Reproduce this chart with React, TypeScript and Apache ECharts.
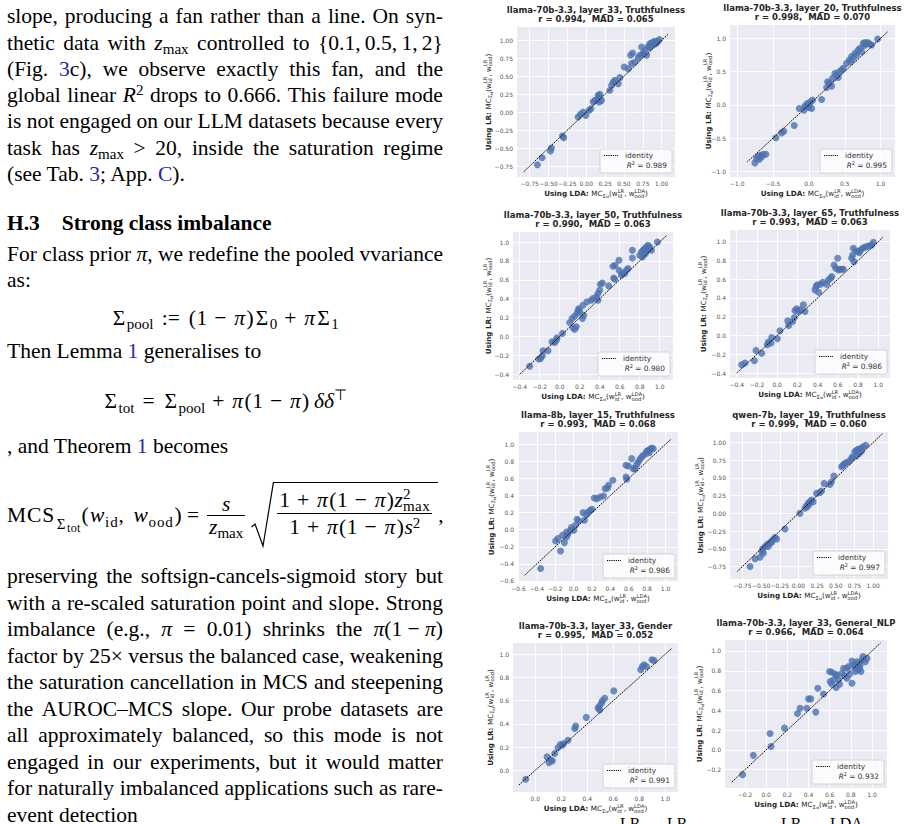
import React, { useEffect, useRef } from 'react';
import * as echarts from 'echarts';

// ---------------- DATA ----------------
const TITLES = [
  'llama-70b-3.3, layer_33, Truthfulness',
  'llama-70b-3.3, layer_20, Truthfulness',
  'llama-70b-3.3, layer_50, Truthfulness',
  'llama-70b-3.3, layer_65, Truthfulness',
  'llama-8b, layer_15, Truthfulness',
  'qwen-7b, layer_19, Truthfulness',
  'llama-70b-3.3, layer_33, Gender',
  'llama-70b-3.3, layer_33, General_NLP',
];
const STATS = [
  'r = 0.994,  MAD = 0.065',
  'r = 0.998,  MAD = 0.070',
  'r = 0.990,  MAD = 0.063',
  'r = 0.993,  MAD = 0.063',
  'r = 0.993,  MAD = 0.068',
  'r = 0.999,  MAD = 0.060',
  'r = 0.995,  MAD = 0.052',
  'r = 0.966,  MAD = 0.064',
];
const R2 = ['0.989', '0.995', '0.980', '0.986', '0.986', '0.997', '0.991', '0.932'];

const L70_L33_TRUTH: [number, number][] = [
  [-0.648, -0.732], [-0.586, -0.634], [-0.475, -0.541], [-0.462, -0.5], [-0.316, -0.332], [-0.298, -0.356],
  [-0.108, -0.068], [-0.077, -0.031], [-0.041, 0.002], [-0.006, -0.045], [0.039, 0.025], [0.061, 0.048],
  [0.092, 0.141], [0.114, 0.164], [0.145, 0.174], [0.172, 0.141], [0.203, 0.164], [0.158, 0.234],
  [0.172, 0.211], [0.18, 0.248], [0.313, 0.304], [0.336, 0.373], [0.358, 0.42], [0.38, 0.443],
  [0.424, 0.396], [0.446, 0.48], [0.504, 0.629], [0.557, 0.605], [0.588, 0.791], [0.615, 0.824],
  [0.601, 0.675], [0.646, 0.698], [0.69, 0.759], [0.712, 0.791], [0.748, 0.805], [0.756, 0.824],
  [0.734, 0.907], [0.779, 0.861], [0.801, 0.791], [0.823, 0.916], [0.845, 0.954], [0.867, 0.963],
  [0.889, 0.977], [0.911, 0.986], [0.934, 0.968], [0.969, 1.009], [0.854, 0.916], [0.88, 0.935],
  [0.92, 0.954], [0.947, 0.981], [0.836, 0.898],
];
const L70_L20_TRUTH: [number, number][] = [
  [-0.753, -0.874], [-0.73, -0.809], [-0.707, -0.774], [-0.674, -0.759], [-0.637, -0.744], [-0.6, -0.744],
  [-0.693, -0.824], [-0.66, -0.784], [-0.46, -0.497], [-0.381, -0.422], [-0.349, -0.397], [-0.205, -0.312],
  [-0.135, -0.055], [-0.07, -0.08], [-0.042, -0.03], [-0.023, 0.02], [0.005, -0.005], [0.023, 0.045],
  [0.037, -0.055], [-0.056, -0.02], [-0.009, -0.04], [0.051, 0.07], [0.177, 0.08], [0.247, 0.261],
  [0.26, 0.347], [0.284, 0.322], [0.316, 0.281], [0.33, 0.397], [0.363, 0.472], [0.386, 0.447],
  [0.409, 0.412], [0.423, 0.497], [0.456, 0.523], [0.479, 0.548], [0.526, 0.623], [0.563, 0.673],
  [0.595, 0.724], [0.619, 0.698], [0.581, 0.648], [0.642, 0.774], [0.665, 0.749], [0.688, 0.824],
  [0.712, 0.849], [0.735, 0.799], [0.758, 0.925], [0.781, 0.935], [0.805, 0.915], [0.828, 0.925],
  [0.851, 0.91], [0.874, 0.9], [0.772, 0.894], [0.819, 0.935], [0.958, 0.99],
];
const L70_L50_TRUTH: [number, number][] = [
  [-0.3, -0.315], [-0.21, -0.238], [-0.19, -0.231], [-0.173, -0.203], [-0.167, -0.15], [-0.117, -0.15],
  [-0.077, -0.055], [-0.05, -0.062], [-0.033, -0.038], [-0.027, -0.013], [0.027, 0.033], [0.1, 0.149],
  [0.123, 0.191], [0.15, 0.216], [0.133, 0.093], [0.15, 0.078], [0.167, 0.103], [0.183, 0.279],
  [0.193, 0.297], [0.2, 0.268], [0.173, 0.244], [0.227, 0.191], [0.24, 0.226], [0.233, 0.331],
  [0.273, 0.367], [0.317, 0.384], [0.333, 0.402], [0.367, 0.42], [0.383, 0.455], [0.4, 0.49],
  [0.407, 0.553], [0.427, 0.567], [0.383, 0.384], [0.49, 0.536], [0.533, 0.743], [0.553, 0.754],
  [0.54, 0.62], [0.55, 0.606], [0.593, 0.807], [0.617, 0.648], [0.627, 0.673], [0.65, 0.666],
  [0.593, 0.701], [0.667, 0.701], [0.683, 0.719], [0.727, 0.912], [0.727, 0.831], [0.8, 0.859],
  [0.817, 0.894], [0.833, 0.912], [0.85, 0.93], [0.867, 0.947], [0.883, 0.965], [0.9, 0.947],
  [0.827, 0.842], [0.857, 0.877], [0.873, 0.912], [0.893, 0.93], [0.917, 0.912], [0.977, 1.0],
];
const L70_L65_TRUTH: [number, number][] = [
  [-0.351, -0.312], [-0.318, -0.294], [-0.225, -0.269], [-0.209, -0.159], [-0.153, -0.188], [-0.097, -0.099],
  [-0.087, -0.07], [-0.061, -0.081], [-0.054, -0.021], [0.002, -0.035], [0.028, 0.05], [0.104, 0.156],
  [0.114, 0.107], [0.153, 0.149], [0.17, 0.192], [0.176, 0.266], [0.193, 0.284], [0.209, 0.256],
  [0.226, 0.273], [0.259, 0.326], [0.275, 0.256], [0.374, 0.486], [0.384, 0.521], [0.397, 0.539],
  [0.41, 0.461], [0.43, 0.546], [0.45, 0.568], [0.489, 0.546], [0.506, 0.592], [0.529, 0.61],
  [0.562, 0.752], [0.578, 0.716], [0.598, 0.823], [0.605, 0.699], [0.539, 0.628], [0.621, 0.706],
  [0.638, 0.706], [0.654, 0.706], [0.736, 0.823], [0.759, 0.787], [0.746, 0.858], [0.802, 0.894],
  [0.825, 0.911], [0.845, 0.929], [0.865, 0.94], [0.885, 0.947], [0.911, 0.957], [0.934, 0.965],
  [0.951, 0.993], [0.753, 0.929], [0.779, 0.901], [0.812, 0.883],
];
const L8_L15_TRUTH: [number, number][] = [
  [-0.359, -0.455], [-0.196, -0.131], [-0.171, -0.104], [-0.142, -0.249], [-0.121, -0.065], [-0.1, -0.151],
  [-0.077, -0.026], [-0.063, -0.053], [-0.034, -0.007], [-0.023, 0.025], [0.002, -0.007], [0.02, 0.052],
  [0.038, 0.122], [0.056, 0.103], [-0.077, -0.085], [0.103, 0.2], [0.117, 0.11], [0.139, 0.177],
  [0.16, 0.208], [0.182, 0.227], [0.2, 0.239], [0.225, 0.372], [0.254, 0.364], [0.29, 0.384],
  [0.326, 0.395], [0.344, 0.481], [0.369, 0.489], [0.38, 0.52], [0.427, 0.579], [0.571, 0.618],
  [0.578, 0.59], [0.571, 0.754], [0.596, 0.746], [0.632, 0.832], [0.65, 0.715], [0.668, 0.715],
  [0.686, 0.762], [0.704, 0.793], [0.722, 0.824], [0.741, 0.852], [0.759, 0.871], [0.795, 0.918],
  [0.813, 0.93], [0.831, 0.941], [0.849, 0.957], [0.867, 0.949], [0.788, 0.891], [0.824, 0.902],
];
const Q7_L19_TRUTH: [number, number][] = [
  [-0.648, -0.75], [-0.581, -0.642], [-0.514, -0.619], [-0.492, -0.539], [-0.47, -0.563], [-0.447, -0.469],
  [-0.416, -0.436], [-0.38, -0.413], [-0.345, -0.375], [-0.314, -0.342], [-0.291, -0.361], [-0.358, -0.408],
  [-0.403, -0.469], [-0.478, -0.502], [-0.18, -0.22], [0.02, 0.0], [0.087, 0.071], [0.109, 0.108],
  [0.132, 0.141], [0.154, 0.165], [0.176, 0.188], [0.198, 0.165], [0.118, 0.094], [0.145, 0.127],
  [0.243, 0.282], [0.287, 0.296], [0.31, 0.315], [0.345, 0.423], [0.421, 0.409], [0.443, 0.446],
  [0.474, 0.526], [0.577, 0.657], [0.599, 0.681], [0.621, 0.704], [0.644, 0.718], [0.679, 0.737],
  [0.71, 0.775], [0.724, 0.798], [0.755, 0.869], [0.777, 0.892], [0.799, 0.906], [0.831, 0.915],
  [0.866, 0.939], [0.902, 0.962], [0.777, 0.812], [0.813, 0.845], [0.844, 0.878],
];
const L70_L33_GENDER: [number, number][] = [
  [-0.074, -0.078], [0.09, 0.115], [0.105, 0.066], [0.118, 0.086], [0.131, 0.081], [0.149, 0.144],
  [0.174, 0.193], [0.192, 0.222], [0.208, 0.216], [0.218, 0.231], [0.251, 0.259], [0.303, 0.36],
  [0.31, 0.38], [0.392, 0.455], [0.482, 0.533], [0.49, 0.548], [0.495, 0.519], [0.508, 0.576],
  [0.515, 0.597], [0.533, 0.62], [0.603, 0.683], [0.81, 0.865], [0.823, 0.893], [0.836, 0.908],
  [0.854, 0.893], [0.897, 0.951], [0.913, 0.945],
];
const L70_L33_NLP: [number, number][] = [
  [-0.222, -0.25], [-0.121, -0.055], [0.037, 0.166], [0.046, 0.035], [0.173, 0.22], [0.296, 0.368],
  [0.321, 0.422], [0.384, 0.422], [0.4, 0.516], [0.422, 0.516], [0.469, 0.382], [0.488, 0.624],
  [0.542, 0.566], [0.599, 0.792], [0.605, 0.691], [0.621, 0.664], [0.637, 0.708], [0.653, 0.765],
  [0.668, 0.758], [0.662, 0.63], [0.684, 0.708], [0.694, 0.664], [0.716, 0.775], [0.732, 0.825],
  [0.738, 0.751], [0.763, 0.724], [0.779, 0.842], [0.788, 0.765], [0.811, 0.674], [0.811, 0.899],
  [0.826, 0.859], [0.842, 0.842], [0.858, 0.892], [0.867, 0.808], [0.874, 0.876], [0.889, 0.859],
  [0.896, 0.792], [0.905, 0.909], [0.915, 0.943], [0.937, 0.892], [0.953, 0.926], [0.883, 0.825],
  [0.842, 0.792], [0.763, 0.825], [0.621, 0.785],
];
const POINTS = [L70_L33_TRUTH, L70_L20_TRUTH, L70_L50_TRUTH, L70_L65_TRUTH, L8_L15_TRUTH, Q7_L19_TRUTH, L70_L33_GENDER, L70_L33_NLP];

const T25 = [-0.75, -0.5, -0.25, 0, 0.25, 0.5, 0.75, 1.0];
const T50 = [-1.0, -0.5, 0, 0.5, 1.0];
const T20A = [-0.4, -0.2, 0, 0.2, 0.4, 0.6, 0.8, 1.0];
const T20B = [-0.6, -0.4, -0.2, 0, 0.2, 0.4, 0.6, 0.8, 1.0];
const T20C = [0, 0.2, 0.4, 0.6, 0.8, 1.0];
const T20D = [-0.2, 0, 0.2, 0.4, 0.6, 0.8, 1.0];
const X_TICKS = [T25, T50, T20A, T20A, T20B, T25, T20C, T20D];
const Y_TICKS = [T25, T50, T20A, T20A, T20B, T25, T20C, T20D];
const TICK_DECIMALS = [2, 1, 1, 1, 1, 2, 1, 1];
const IDENTITY: [number, number][] = [
  [-0.83, 1.09], [-0.86, 1.1], [-0.4, 1.073], [-0.4, 1.044], [-0.533, 1.06], [-0.82, 1.13], [-0.126, 1.046], [-0.325, 1.08],
];

// ---------------- LAYOUT ----------------
const BOXES: [number, number, number, number][] = [
  [517, 27, 158, 150], [730, 25, 165, 152],
  [513, 232, 160, 148], [730, 230, 160, 148],
  [518, 432, 160, 150], [730, 432, 158, 147],
  [513, 643, 165, 149], [725, 640, 162, 148],
];
const X_RANGE: [number, number][] = [
  [-0.919, 1.177], [-1.1, 1.2], [-0.467, 1.133], [-0.466, 1.115], [-0.605, 1.136], [-0.917, 1.2], [-0.172, 1.097], [-0.389, 1.142],
];
const Y_RANGE: [number, number][] = [
  [-0.903, 1.185], [-1.086, 1.2], [-0.46, 1.106], [-0.453, 1.124], [-0.612, 1.144], [-0.927, 1.149], [-0.187, 1.095], [-0.385, 1.111],
];
const YTITLE_X = [488, 708, 488, 703, 491, 700, 490, 699];

const FONT = 'DejaVu Sans';
const SERIF = '"Liberation Serif", "Times New Roman", serif';
const LINK = '#2a2a9e';
const DOT = '#4C72B0';

let measureCtx: CanvasRenderingContext2D | null = null;
function textWidth(t: string, size: number, weight = 'normal', style = 'normal') {
  if (!measureCtx) measureCtx = document.createElement('canvas').getContext('2d');
  measureCtx!.font = `${style} ${weight} ${size}px "${FONT}"`;
  return measureCtx!.measureText(t).width;
}

type Seg = { t?: string; s?: number; b?: boolean; i?: boolean; dy?: number; stack?: { t: string; s: number; dy: number }[] };

function mathLabel(segs: Seg[], cx: number, cy: number, rotation: number, color: string) {
  const items: { t: string; s: number; b?: boolean; i?: boolean; dy: number; x: number }[] = [];
  let x = 0;
  for (const sg of segs) {
    if (sg.stack) {
      let w = 0;
      for (const k of sg.stack) {
        items.push({ t: k.t, s: k.s, dy: k.dy, x });
        w = Math.max(w, textWidth(k.t, k.s));
      }
      x += w;
    } else {
      items.push({ t: sg.t!, s: sg.s!, b: sg.b, i: sg.i, dy: sg.dy || 0, x });
      x += textWidth(sg.t!, sg.s!, sg.b ? 'bold' : 'normal', sg.i ? 'italic' : 'normal');
    }
  }
  const total = x;
  return {
    type: 'group',
    x: cx,
    y: cy,
    rotation,
    silent: true,
    children: items.map((p) => ({
      type: 'text',
      x: p.x - total / 2,
      y: p.dy,
      style: {
        text: p.t,
        fontSize: p.s,
        fontWeight: p.b ? 'bold' : 'normal',
        fontStyle: p.i ? 'italic' : 'normal',
        fontFamily: FONT,
        fill: color,
        textAlign: 'left',
        textVerticalAlign: 'middle',
        align: 'left',
        verticalAlign: 'middle',
      },
    })),
  };
}

const MAIN = 7.2;
const SMALL = 5.2;
function axisTitleSegs(lead: string, supLast: string): Seg[] {
  return [
    { t: lead, s: MAIN, b: true },
    { t: 'MC', s: MAIN },
    { t: 'Σ', s: SMALL, dy: 2.2 },
    { t: 'id', s: 3.6, dy: 3.8 },
    { t: '(w', s: MAIN },
    { stack: [{ t: 'LR', s: SMALL, dy: -2.8 }, { t: 'id', s: SMALL, dy: 2.4 }] },
    { t: ', w', s: MAIN },
    { stack: [{ t: supLast, s: SMALL, dy: -2.8 }, { t: 'ood', s: SMALL, dy: 2.4 }] },
    { t: ')', s: MAIN },
  ];
}

function legendElements(i: number) {
  const [l, t, w, h] = BOXES[i];
  const bw = 72;
  const bh = 24;
  const bx = l + w - 3 - bw;
  const by = t + h - 4 - bh;
  const fs = 7.4;
  const rx = bx + bw - 5;
  const valueText = ' = ' + R2[i];
  const wv = textWidth(valueText, fs);
  const w2 = textWidth('2', 5);
  const common = { fontFamily: FONT, fill: '#333', textVerticalAlign: 'middle', verticalAlign: 'middle' };
  return [
    {
      type: 'rect',
      silent: true,
      shape: { x: bx, y: by, width: bw, height: bh, r: 2 },
      style: { fill: 'rgba(255,255,255,0.8)', stroke: '#cccccc', lineWidth: 0.8 },
      z: 10,
    },
    {
      type: 'line',
      silent: true,
      shape: { x1: bx + 4, y1: by + 6.5, x2: bx + 18, y2: by + 6.5 },
      style: { stroke: '#000', lineWidth: 1, lineDash: [1.2, 1] },
      z: 11,
    },
    {
      type: 'text', silent: true, x: bx + 25, y: by + 6.5, z: 11,
      style: { ...common, text: 'identity', fontSize: fs, textAlign: 'left', align: 'left' },
    },
    {
      type: 'text', silent: true, x: rx, y: by + 16.5, z: 11,
      style: { ...common, text: valueText, fontSize: fs, textAlign: 'right', align: 'right' },
    },
    {
      type: 'text', silent: true, x: rx - wv, y: by + 14, z: 11,
      style: { ...common, text: '2', fontSize: 5, textAlign: 'right', align: 'right' },
    },
    {
      type: 'text', silent: true, x: rx - wv - w2, y: by + 16.5, z: 11,
      style: { ...common, text: 'R', fontSize: fs, fontStyle: 'italic', textAlign: 'right', align: 'right' },
    },
  ];
}

function fmt(dec: number) {
  return (v: number) => (v < -1e-9 ? '\u2212' : '') + Math.abs(v).toFixed(dec);
}

function buildOption() {
  const graphics: any[] = [];
  BOXES.forEach(([l, t, w, h], i) => {
    graphics.push({
      type: 'text',
      silent: true,
      x: l + w / 2,
      y: t - 3,
      style: {
        text: TITLES[i] + '\n' + STATS[i],
        fontSize: 8.5,
        fontWeight: 'bold',
        fontFamily: FONT,
        fill: '#262626',
        lineHeight: 9.5,
        textAlign: 'center',
        align: 'center',
        textVerticalAlign: 'bottom',
        verticalAlign: 'bottom',
      },
    });
    graphics.push(mathLabel(axisTitleSegs('Using LDA: ', 'LDA'), l + w / 2, t + h + 16.3, 0, '#262626'));
    graphics.push(mathLabel(axisTitleSegs('Using LR: ', 'LR'), YTITLE_X[i], t + h / 2, Math.PI / 2, '#262626'));
    graphics.push(...legendElements(i));
  });

  return {
    animation: false,
    textStyle: { fontFamily: FONT },
    grid: BOXES.map(([l, t, w, h]) => ({
      left: l, top: t, width: w, height: h, show: true, backgroundColor: '#EAEAF2', borderWidth: 0, containLabel: false,
    })),
    xAxis: BOXES.map((_, i) => ({
      type: 'value',
      gridIndex: i,
      min: X_RANGE[i][0],
      max: X_RANGE[i][1],
      axisLine: { show: false },
      axisTick: { show: false, customValues: X_TICKS[i] },
      axisLabel: { customValues: X_TICKS[i], formatter: fmt(TICK_DECIMALS[i]), fontSize: 6, color: '#555', margin: 3, fontFamily: FONT },
      splitLine: { show: true, lineStyle: { color: '#ffffff', width: 0.9 } },
    })),
    yAxis: BOXES.map((_, i) => ({
      type: 'value',
      gridIndex: i,
      min: Y_RANGE[i][0],
      max: Y_RANGE[i][1],
      axisLine: { show: false },
      axisTick: { show: false, customValues: Y_TICKS[i] },
      axisLabel: { customValues: Y_TICKS[i], formatter: fmt(TICK_DECIMALS[i]), fontSize: 6, color: '#555', margin: 4, fontFamily: FONT },
      splitLine: { show: true, lineStyle: { color: '#ffffff', width: 0.9 } },
    })),
    series: POINTS.flatMap((pts, i) => [
      {
        type: 'scatter',
        xAxisIndex: i,
        yAxisIndex: i,
        data: pts,
        symbolSize: 7,
        itemStyle: { color: DOT, opacity: 0.8 },
        silent: true,
        z: 2,
      },
      {
        type: 'line',
        xAxisIndex: i,
        yAxisIndex: i,
        data: [
          [IDENTITY[i][0], IDENTITY[i][0]],
          [IDENTITY[i][1], IDENTITY[i][1]],
        ],
        symbol: 'none',
        showSymbol: false,
        lineStyle: { color: '#000', width: 1, type: [1.6, 1] },
        silent: true,
        z: 3,
      },
    ]),
    graphic: { elements: graphics },
  };
}

// ---------------- TEXT HELPERS ----------------
const Sub = ({ children, ls }: any) => (
  <span style={{ fontSize: '0.7em', position: 'relative', top: '0.3em', lineHeight: 0, letterSpacing: ls }}>{children}</span>
);
const Sup = ({ children, top = '-0.5em' }: any) => (
  <span style={{ fontSize: '0.7em', position: 'relative', top, lineHeight: 0 }}>{children}</span>
);
const Lk = ({ children }: any) => <span style={{ color: LINK }}>{children}</span>;
const Zmax = () => (
  <>
    <i>z</i>
    <Sub>max</Sub>
  </>
);
// Computer-Modern-like metrics for math operators
const Bin = ({ c }: { c: string }) => (
  <span style={{ display: 'inline-block', width: '0.778em', margin: '0 0.222em', textAlign: 'center' }}>{c}</span>
);
const Rel = ({ c, w = 0.778, m = 0.278 }: { c: string; w?: number; m?: number }) => (
  <span style={{ display: 'inline-block', width: `${w}em`, margin: `0 ${m}em`, textAlign: 'center' }}>{c}</span>
);
const Pa = ({ c }: { c: string }) => (
  <span style={{ display: 'inline-block', width: '0.389em', textAlign: 'center' }}>{c}</span>
);
const Sg = () => <span style={{ display: 'inline-block', width: '0.722em', textAlign: 'center' }}>Σ</span>;
const Pi = () => (
  <span style={{ display: 'inline-block', width: '0.57em', textAlign: 'center' }}>
    <i>π</i>
  </span>
);
const Wm = () => (
  <span style={{ display: 'inline-block', width: '0.74em', textAlign: 'center' }}>
    <i>w</i>
  </span>
);

const words = (s: string) => s.split(' ');

const Line = ({ top, items, justify = true }: { top: number; items: any[]; justify?: boolean }) => (
  <div
    style={{
      position: 'absolute', left: 7, top, width: 436, height: 26, lineHeight: '26px', display: 'flex',
      justifyContent: justify ? 'space-between' : 'flex-start', whiteSpace: 'nowrap',
    }}
  >
    {items.map((it, k) => (
      <span key={k}>{it}</span>
    ))}
  </div>
);

const Centered = ({ top, children }: any) => (
  <div style={{ position: 'absolute', left: 7, top, width: 436, height: 26, lineHeight: '26px', textAlign: 'center', whiteSpace: 'nowrap' }}>
    {children}
  </div>
);

const Frac = ({ num, den, lh = 22 }: any) => (
  <span style={{ display: 'inline-flex', flexDirection: 'column', alignItems: 'center', margin: '0 3px', lineHeight: `${lh}px` }}>
    <span style={{ padding: '0 2px' }}>{num}</span>
    <span style={{ borderTop: '1px solid #000', padding: '0 2px', alignSelf: 'stretch', textAlign: 'center' }}>{den}</span>
  </span>
);

const Sqrt = ({ children }: any) => (
  <span style={{ display: 'inline-flex', alignItems: 'stretch', marginLeft: 3 }}>
    <svg width={23} height={66} style={{ display: 'block' }}>
      <polyline points="0.5,45 4,42 12,64 22.4,0.6 23,0.6" fill="none" stroke="#000" strokeWidth={1.2} />
    </svg>
    <span
      style={{ borderTop: '1.2px solid #000', paddingTop: 4, paddingBottom: 8, paddingRight: 3, display: 'inline-flex', alignItems: 'center' }}
    >
      {children}
    </span>
  </span>
);

function LeftText() {
  return (
    <div style={{ position: 'absolute', left: 0, top: 0, width: 455, height: 824, fontFamily: SERIF, fontSize: 21.5, color: '#000' }}>
      <Line top={3.2} items={words('slope, producing a fan rather than a line. On syn-')} />
      <Line
        top={29.5}
        items={[...words('thetic data with'), <Zmax />, ...words('controlled to'), '{0.1,\u20090.5,\u20091,\u20092}']}
      />
      <Line top={55.8} items={['(Fig.', <>
        <Lk>3</Lk>c),
      </>, ...words('we observe exactly this fan, and the')]} />
      <Line
        top={82.1}
        items={[...words('global linear'), <>
          <i>R</i>
          <Sup>2</Sup>
        </>, ...words('drops to 0.666. This failure mode')]}
      />
      <Line top={108.4} items={words('is not engaged on our LLM datasets because every')} />
      <Line top={134.7} items={[...words('task has'), <Zmax />, '>', ...words('20, inside the saturation regime')]} />
      <Line
        top={161}
        justify={false}
        items={[<>
          (see Tab. <Lk>3</Lk>; App. <Lk>C</Lk>).
        </>]}
      />
      <div style={{ position: 'absolute', left: 7, top: 209.7, lineHeight: '26px', fontWeight: 'bold', whiteSpace: 'nowrap' }}>H.3</div>
      <div style={{ position: 'absolute', left: 61.7, top: 209.7, lineHeight: '26px', fontWeight: 'bold', whiteSpace: 'nowrap' }}>
        Strong class imbalance
      </div>
      <Line
        top={241.4}
        items={[...words('For class prior'), <>
          <i>π</i>,
        </>, ...words('we redefine the pooled vvariance')]}
      />
      <Line top={266.7} justify={false} items={['as:']} />
      <Centered top={304.7}>
        <Sg />
        <Sub>pool</Sub>
        <Rel c=":=" w={1.056} />
        <Pa c="(" />1<Bin c="−" />
        <Pi />
        <Pa c=")" />
        <Sg />
        <Sub>0</Sub>
        <Bin c="+" />
        <Pi />
        <Sg />
        <Sub>1</Sub>
      </Centered>
      <Line top={338} justify={false} items={[<>
        Then Lemma <Lk>1</Lk> generalises to
      </>]} />
      <Centered top={388}>
        <Sg />
        <Sub>tot</Sub>
        <Rel c="=" />
        <Sg />
        <Sub>pool</Sub>
        <Bin c="+" />
        <Pi />
        <Pa c="(" />1<Bin c="−" />
        <Pi />
        <Pa c=")" />
        {'\u2009'}
        <i>δδ</i>
        <Sup>⊤</Sup>
      </Centered>
      <Line top={433} justify={false} items={[<>
        , and Theorem <Lk>1</Lk> becomes
      </>]} />
      <div
        style={{
          position: 'absolute', left: 7, top: 481, height: 68, display: 'flex', alignItems: 'center', whiteSpace: 'nowrap', lineHeight: '24px',
        }}
      >
        <span>
          <span style={{ letterSpacing: '0.04em' }}>MCS</span>
          <span style={{ fontSize: '0.7em', position: 'relative', top: '0.45em', lineHeight: 0 }}>
            <span style={{ display: 'inline-block', width: '0.8em', textAlign: 'center' }}>Σ</span>
            <span style={{ fontSize: '0.8em', position: 'relative', top: '0.25em', letterSpacing: '0.03em' }}>tot</span>
          </span>
          <Pa c="(" />
          <Wm />
          <Sub ls="0.06em">id</Sub>,{'\u2009\u2009'}
          <Wm />
          <Sub ls="0.06em">ood</Sub>
          <Pa c=")" />
          <Rel c="=" m={0.12} />
        </span>
        <Frac num={<i>s</i>} den={<Zmax />} />
        <Sqrt>
          <Frac
            lh={26}
            num={
              <>
                1<Bin c="+" />
                <Pi />
                <Pa c="(" />1<Bin c="−" />
                <Pi />
                <Pa c=")" />
                <i>z</i>
                <span style={{ fontSize: '0.7em', position: 'relative', top: '-0.55em', lineHeight: 0 }}>2</span>
                <span style={{ fontSize: '0.7em', position: 'relative', top: '0.25em', lineHeight: 0, marginLeft: '-0.5em', letterSpacing: '0.03em' }}>
                  max
                </span>
              </>
            }
            den={
              <>
                1<Bin c="+" />
                <Pi />
                <Pa c="(" />1<Bin c="−" />
                <Pi />
                <Pa c=")" />
                <i>s</i>
                <Sup top="-0.42em">2</Sup>
              </>
            }
          />
        </Sqrt>
        <span>,</span>
      </div>
      <Line top={563.2} items={words('preserving the softsign-cancels-sigmoid story but')} />
      <Line top={589.7} items={words('with a re-scaled saturation point and slope. Strong')} />
      <Line
        top={616.2}
        items={[...words('imbalance (e.g.,'), <i>π</i>, '=', '0.01)', 'shrinks', 'the', <>
          <i>π</i>(1 − <i>π</i>)
        </>]}
      />
      <Line top={642.7} items={[...words('factor by'), '25×', ...words('versus the balanced case, weakening')]} />
      <Line top={669.2} items={words('the saturation cancellation in MCS and steepening')} />
      <Line top={695.7} items={words('the AUROC–MCS slope. Our probe datasets are')} />
      <Line top={722.2} items={words('all approximately balanced, so this mode is not')} />
      <Line top={748.7} items={words('engaged in our experiments, but it would matter')} />
      <Line top={775.2} items={words('for naturally imbalanced applications such as rare-')} />
      <Line top={801.7} justify={false} items={['event detection']} />
    </div>
  );
}

const CAPTION_BITS = [
  { t: 'LR', x: 620 },
  { t: 'LR', x: 667 },
  { t: 'LR', x: 781 },
  { t: 'LDA', x: 830 },
];

export default function App() {
  const ref = useRef<HTMLDivElement>(null);
  useEffect(() => {
    const chart = echarts.init(ref.current!, undefined, { renderer: 'svg' });
    chart.setOption(buildOption() as any);
    return () => chart.dispose();
  }, []);
  return (
    <div style={{ position: 'absolute', left: 0, top: 0, width: 910, height: 824, overflow: 'hidden', background: '#fff' }}>
      <div ref={ref} style={{ position: 'absolute', left: 0, top: 0, width: 910, height: 824 }} />
      <LeftText />
      {CAPTION_BITS.map((c, k) => (
        <span
          key={k}
          style={{ position: 'absolute', left: c.x, top: 816, fontFamily: SERIF, fontSize: 16, lineHeight: '16px', whiteSpace: 'nowrap' }}
        >
          {c.t}
        </span>
      ))}
    </div>
  );
}
